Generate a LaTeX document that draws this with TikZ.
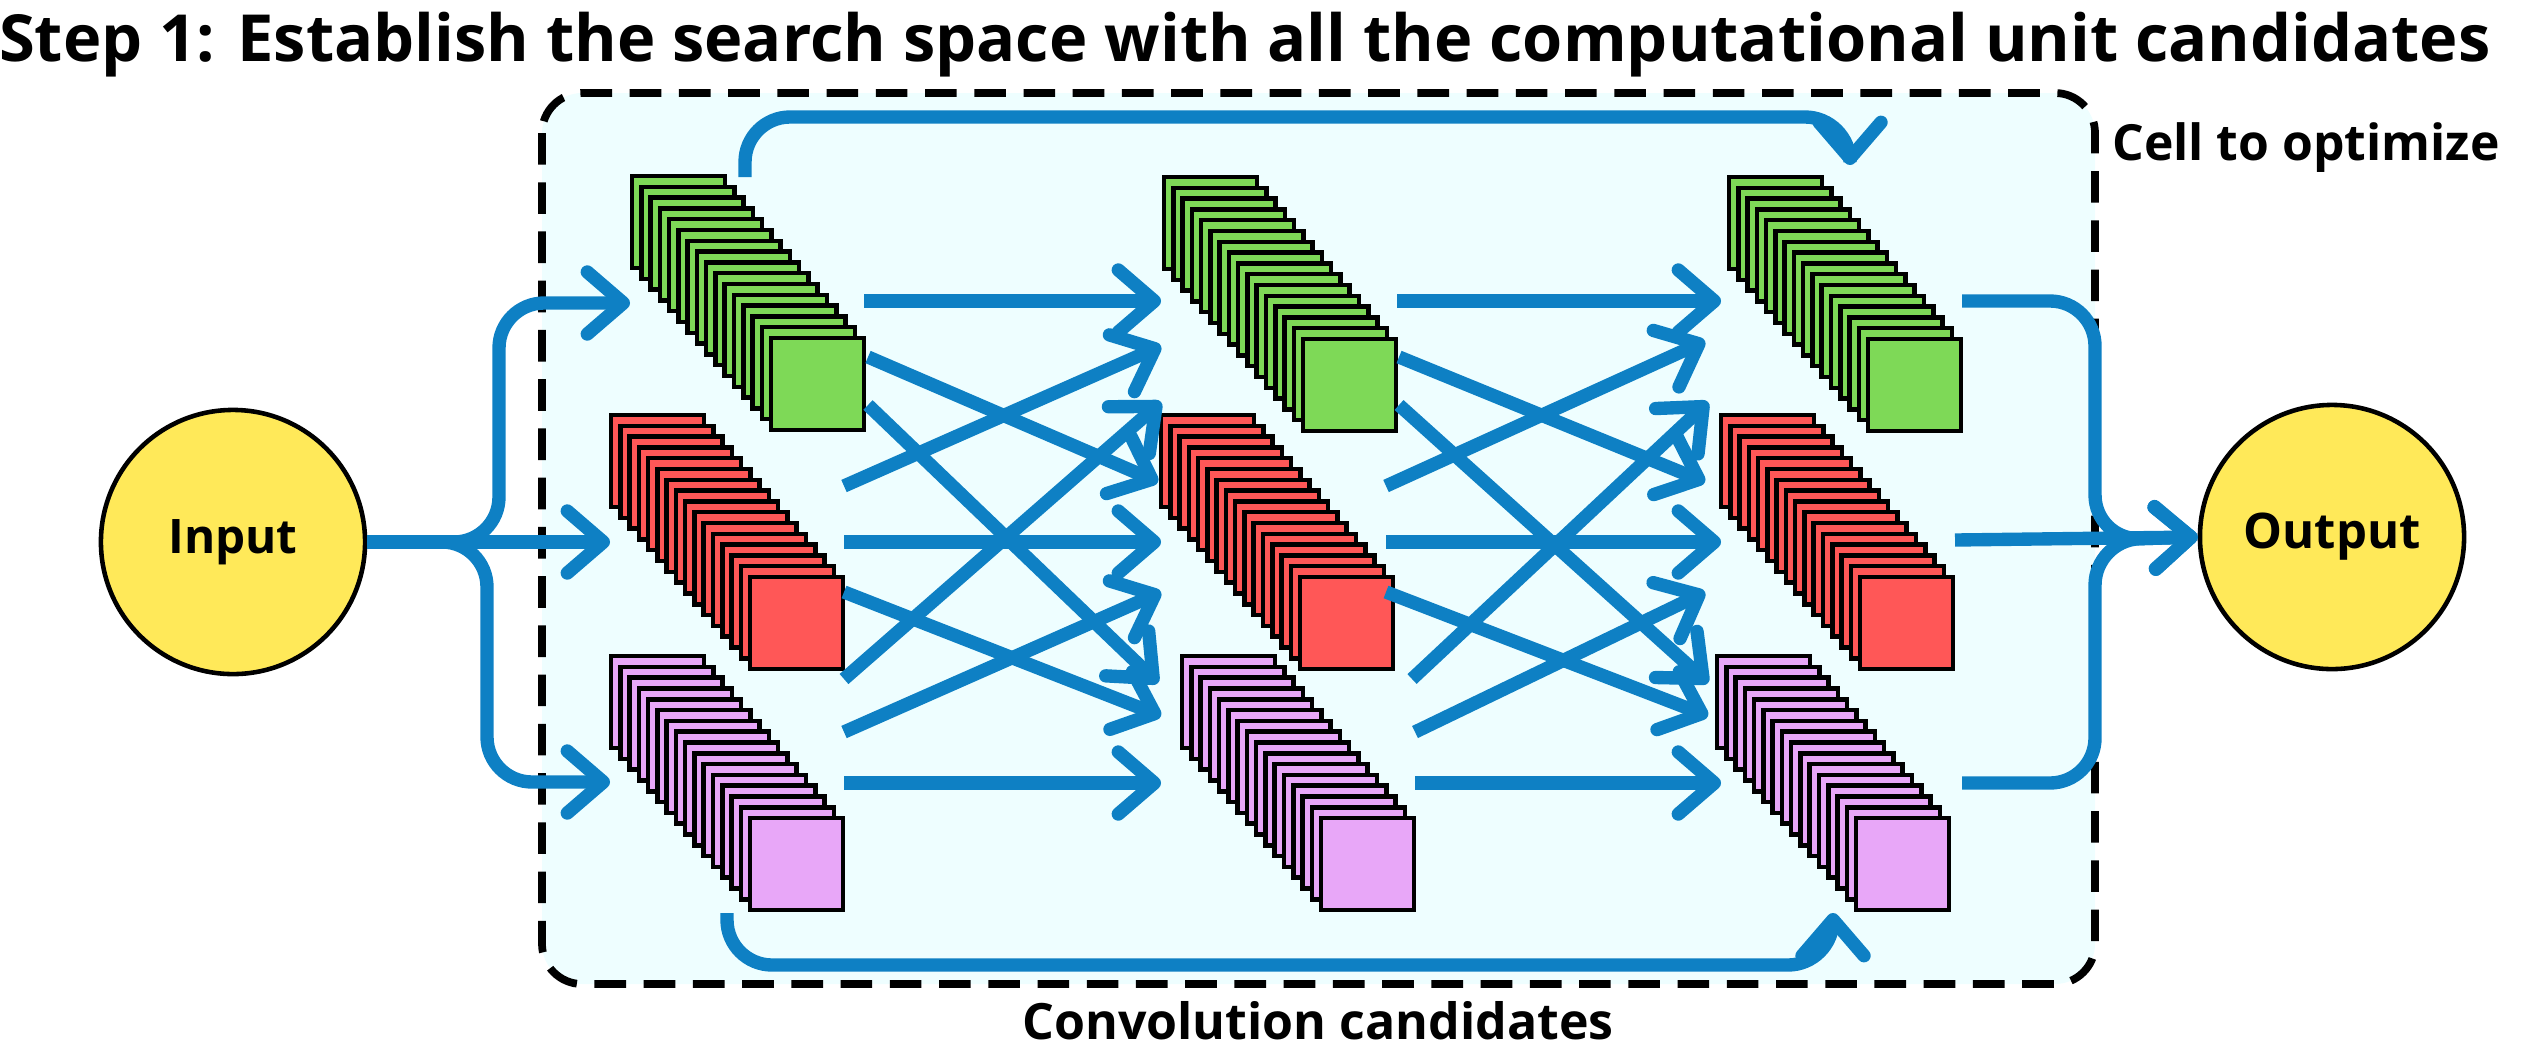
\documentclass[tikz,border=0pt]{standalone}
\usepackage{fontspec}
\setmainfont{Open Sans}
\usetikzlibrary{arrows.meta}
\definecolor{gfill}{HTML}{7ED957}
\definecolor{rfill}{HTML}{FF5757}
\definecolor{pfill}{HTML}{E8A7F8}
\definecolor{bline}{HTML}{0E80C4}
\definecolor{yfill}{HTML}{FFE959}
\definecolor{cellbg}{HTML}{EEFEFF}
\newcommand\mystack[4]{%
  \foreach \i in {0,...,15}{\draw[sq,fill=#3] (#1+\i*9.27,#2+\i*10.8) rectangle ++(93,92);}
  \coordinate (#4) at (#1+139,#2+162);}
\tikzset{
  sq/.style={draw=black,line width=1.3pt},
  flow/.style={draw=bline,line width=3.8pt,-{Straight Barb[length=0.36cm,width=0.62cm,round]}},
  lbl/.style={font=\bfseries,inner sep=0pt},
  circ/.style={circle,draw=black,line width=1.3pt,fill=yfill,minimum size=2.64cm,inner sep=0pt}
}
\begin{document}
\begin{tikzpicture}[x=0.01cm,y=-0.01cm]
\useasboundingbox (0,0) rectangle (2522,1048);
\node[lbl] (title) at (1245,45) {\resizebox{24.9cm}{!}{Step 1: Establish the search space with all the computational unit candidates}};
\draw[black,line width=2.2pt,dash pattern=on 9pt off 5pt,fill=cellbg,rounded corners=0.4cm] (542,93) rectangle (2095,984);
\node[lbl] (cell) at (2306,148) {\resizebox{3.87cm}{!}{Cell to optimize}};
\node[lbl] (conv) at (1318,1021) {\resizebox{5.91cm}{!}{Convolution candidates}};
\node[circ] (in) at (233,542) {\resizebox{1.29cm}{!}{\bfseries Input}};
\node[circ] (out) at (2332,537) {\resizebox{1.77cm}{!}{\bfseries Output}};
% stacks
\mystack{632}{176}{gfill}{g1}
\mystack{611}{415}{rfill}{r1}
\mystack{611}{656}{pfill}{p1}
\mystack{1164}{177}{gfill}{g2}
\mystack{1161}{415}{rfill}{r2}
\mystack{1182}{656}{pfill}{p2}
\mystack{1729}{177}{gfill}{g3}
\mystack{1721}{415}{rfill}{r3}
\mystack{1717}{656}{pfill}{p3}
% input branches
\draw[flow] (in.east) -- (610,542);
\draw[flow,rounded corners=0.45cm] (420,542) -| (499,303) -- (630,303);
\draw[flow,rounded corners=0.45cm] (420,542) -| (487,782) -- (610,782);
% col1 -> col2
\draw[flow] (864,301) -- (1161,301);
\draw[flow] (844,542) -- (1161,542);
\draw[flow] (844,783) -- (1161,783);
\draw[flow] (868,357) -- (1158,482);
\draw[flow] (868,405) -- (1158,683);
\draw[flow] (844,486) -- (1161,346);
\draw[flow] (844,592) -- (1161,716);
\draw[flow] (844,679) -- (1161,402);
\draw[flow] (844,732) -- (1161,592);
% col2 -> col3
\draw[flow] (1397,301) -- (1721,301);
\draw[flow] (1386,542) -- (1721,542);
\draw[flow] (1415,783) -- (1721,783);
\draw[flow] (1399,357) -- (1705,482);
\draw[flow] (1399,405) -- (1708,683);
\draw[flow] (1386,486) -- (1705,341);
\draw[flow] (1386,592) -- (1708,716);
\draw[flow] (1412,679) -- (1708,402);
\draw[flow] (1415,732) -- (1705,592);
% outputs
\draw[flow,rounded corners=0.45cm] (1962,301) -| (2095,540) -- (out.west);
\draw[flow] (1955,540) -- (out.west);
\draw[flow,rounded corners=0.45cm] (1962,783) -| (2095,540) -- (out.west);
% skips
\draw[flow,rounded corners=0.45cm] (745,177) |- (1850,117) -- (1850,165);
\draw[flow,rounded corners=0.45cm] (727,913) |- (1833,965) -- (1833,913);
\end{tikzpicture}
\end{document}
